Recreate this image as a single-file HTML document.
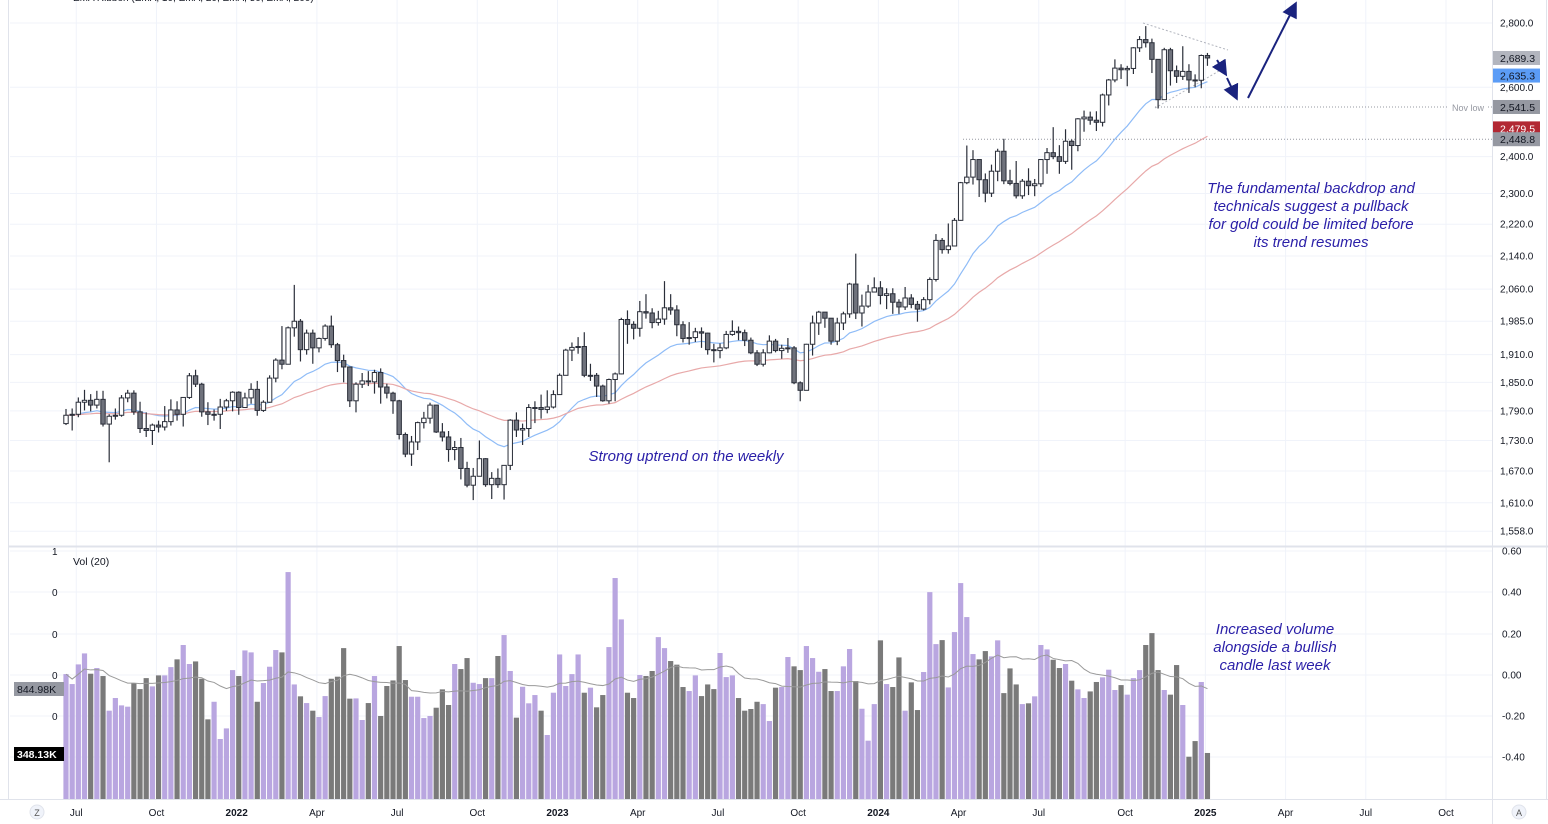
<!DOCTYPE html>
<html><head><meta charset="utf-8">
<style>
html,body{margin:0;padding:0;background:#fff;width:1548px;height:824px;overflow:hidden;font-family:"Liberation Sans",sans-serif;}
svg text{font-family:"Liberation Sans",sans-serif;}
</style></head>
<body>
<svg id="chart" width="1548" height="824" viewBox="0 0 1548 824" xmlns="http://www.w3.org/2000/svg">
<rect x="0" y="0" width="1548" height="824" fill="#fff"/>
<g id="grid"></g>
<g id="price"></g>
<g id="vol"></g>
<g id="axes"></g>
</svg>
<script>
const closes=[1781,1783,1808,1812,1802,1814,1763,1779,1781,1817,1827,1788,1754,1750,1761,1757,1768,1792,1783,1818,1864,1846,1788,1783,1783,1798,1811,1829,
1797,1817,1835,1791,1808,1859,1898,1889,1970,1985,1921,1958,1925,1946,1974,1932,1897,1883,1811,1846,1853,1851,1871,1840,1827,1811,1742,1703,1727,1766,1775,1802,1747,1737,1712,1716,1675,1643,1660,1694,1644,1656,1644,1681,1771,1751,1754,1797,1797,1793,1798,1824,
1865,1920,1926,1928,1865,1865,1842,1811,1856,1868,1989,1978,1969,2007,2004,1982,1990,2016,2011,1977,1946,1948,1961,1958,1921,1919,1925,1955,1962,1959,1942,1914,1889,1914,1940,1919,1924,1925,1849,1833,1933,1981,2006,1992,1940,1981,2002,2072,2004,2020,2053,2063,
2045,2049,2029,2018,2039,2024,2013,2035,2083,2179,2156,2165,2230,2329,2344,2392,2337,2301,2360,2415,2334,2327,2294,2333,2321,2326,2392,2411,2400,2387,2443,2431,2507,2512,2503,2497,2577,2622,2658,2653,2657,2721,2747,2737,2685,2563,2715,2650,2633,2648,2622,2621,2697,2689.3];
const highs=[1794,1795,1818,1834,1825,1832,1832,1783,1795,1823,1834,1833,1809,1787,1764,1770,1800,1814,1810,1818,1870,1877,1849,1808,1793,1815,1815,1831,
1831,1828,1848,1853,1812,1865,1902,1974,1973,2070,1990,1966,1966,1948,1978,1998,1936,1910,1884,1850,1870,1874,1877,1880,1847,1830,1813,1746,1739,1768,1788,1807,1802,1765,1749,1729,1735,1688,1676,1730,1695,1668,1675,1681,1773,1787,1764,1804,1810,1824,1833,1833,
1869,1923,1937,1949,1960,1890,1870,1845,1858,1871,1993,2010,1985,2032,2048,2015,2009,2079,2048,2022,1985,1983,1970,1971,1959,1934,1935,1963,1987,1973,1966,1948,1920,1922,1953,1945,1932,1947,1929,1852,1934,1998,2009,2006,1988,1993,2007,2075,2146,2047,2070,2088,
2079,2062,2062,2036,2065,2048,2032,2041,2088,2195,2185,2222,2236,2331,2431,2418,2392,2354,2378,2422,2450,2364,2388,2339,2368,2339,2393,2424,2483,2432,2477,2448,2509,2531,2528,2529,2581,2625,2685,2670,2665,2723,2758,2790,2750,2686,2721,2721,2666,2726,2670,2639,2700,2705];
const lows=[1761,1750,1777,1791,1789,1795,1758,1687,1772,1778,1808,1782,1745,1737,1721,1746,1750,1760,1770,1758,1815,1840,1778,1761,1770,1753,1790,1789,
1782,1796,1805,1780,1788,1807,1850,1878,1890,1950,1895,1910,1890,1915,1941,1925,1872,1850,1798,1787,1838,1842,1826,1805,1816,1784,1732,1697,1680,1711,1754,1764,1745,1728,1688,1691,1654,1639,1615,1660,1640,1617,1638,1616,1672,1737,1721,1737,1765,1774,1785,1795,
1825,1866,1896,1912,1861,1853,1819,1809,1805,1810,1867,1934,1944,1950,1991,1969,1975,1977,2000,1951,1937,1932,1938,1925,1910,1893,1902,1922,1952,1942,1929,1911,1885,1884,1913,1915,1901,1914,1846,1810,1834,1908,1954,1970,1932,1931,1965,1993,1990,1973,2016,2053,
2024,2013,2002,2002,2011,2015,1984,2010,2024,2078,2146,2146,2164,2229,2325,2324,2291,2277,2291,2333,2325,2322,2287,2286,2296,2293,2318,2353,2393,2353,2380,2364,2415,2470,2490,2472,2485,2546,2615,2625,2603,2640,2708,2722,2643,2537,2564,2605,2613,2622,2583,2600,2597,2665];
const volumesK=[966,889,1041,1126,969,1013,951,683,781,724,714,897,850,935,871,956,956,1020,1080,1191,1044,1064,930,616,752,464,546,997,951,1149,1134,752,897,1023,1152,1134,1755,886,794,742,683,634,796,930,946,1167,776,778,611,742,951,642,874,917,1183,920,791,791,626,642,706,848,727,1044,1005,1090,899,889,935,935,1106,1268,990,629,868,740,804,683,495,822,1118,874,966,1118,822,861,709,804,1175,1709,1389,
822,781,959,951,990,1252,1167,1067,1039,866,835,956,796,886,850,1129,943,956,781,683,696,752,734,603,861,866,1098,1026,997,1183,1090,984,1005,835,835,1026,1160,912,698,451,734,1227,889,866,1095,683,902,688,982,1600,1198,1229,863,1291,1670,1407,1121,1080,1144,1103,1227,819,1010,886,734,740,794,1191,1157,1077,1013,1044,915,848,781,832,905,941,1000,843,881,807,935,997,1191,1283,997,843,807,1036,727,327,448,905,356];
const firstOpen=1764;
const priceTicks=[2800,2600,2400,2300,2220,2140,2060,1985,1910,1850,1790,1730,1670,1610,1558];
const timeLabels=["Jul","Oct","2022","Apr","Jul","Oct","2023","Apr","Jul","Oct","2024","Apr","Jul","Oct","2025","Apr","Jul","Oct"];
const timeWeeks=[1.5,14.5,27.5,40.5,53.5,66.5,79.5,92.5,105.5,118.5,131.5,144.5,157.5,171.5,184.5,197.5,210.5,223.5];
const volTicks=["0.60","0.40","0.20","0.00","-0.20","-0.40"];

const NS="http://www.w3.org/2000/svg";
function mk(tag,attrs,parent,text){const e=document.createElementNS(NS,tag);for(const k in attrs)e.setAttribute(k,attrs[k]);if(text!==undefined)e.textContent=text;parent.appendChild(e);return e;}
const X=i=>66+i*6.17;
const Y=p=>23+867*Math.log(2800/p);
const VY=v=>799-v*0.1293;
const grid=document.getElementById('grid'),price=document.getElementById('price'),vol=document.getElementById('vol'),axes=document.getElementById('axes');

priceTicks.forEach(p=>{const l=mk('line',{x1:10,x2:1492,y1:Y(p),y2:Y(p),stroke:'#f0f3fa','stroke-width':1},grid);

});
[551,592,634,675,716,757].forEach(y=>{const l=mk('line',{x1:10,x2:1492,y1:y,y2:y,stroke:'#f0f3fa'},grid);

});
timeWeeks.forEach(w=>{const x=X(w)+1;const l=mk('line',{x1:x,x2:x,y1:0,y2:799,stroke:'#f0f3fa'},grid);

});

mk('line',{x1:8.5,x2:8.5,y1:0,y2:800,stroke:'#e0e3eb'},axes);
mk('line',{x1:1492.5,x2:1492.5,y1:0,y2:824,stroke:'#e0e3eb'},axes);
mk('line',{x1:8,x2:1548,y1:546.5,y2:546.5,stroke:'#e0e3eb','stroke-width':2},axes);
mk('line',{x1:0,x2:1548,y1:799.5,y2:799.5,stroke:'#e0e3eb'},axes);
mk('line',{x1:1546.5,x2:1546.5,y1:0,y2:800,stroke:'#e0e3eb'},axes);

mk('line',{x1:963,x2:1492,y1:Y(2448.8),y2:Y(2448.8),stroke:'#9598a1','stroke-dasharray':'1,2'},price);
mk('line',{x1:1155,x2:1448,y1:Y(2541.5),y2:Y(2541.5),stroke:'#9598a1','stroke-dasharray':'1,2'},price);
mk('line',{x1:1488,x2:1492,y1:Y(2541.5),y2:Y(2541.5),stroke:'#9598a1','stroke-dasharray':'1,2'},price);
mk('text',{x:1452,y:111,'font-size':9,fill:'#9598a1'},price,'Nov low');
mk('line',{x1:1143,y1:23,x2:1228,y2:50,stroke:'#b2b5be','stroke-dasharray':'2,2'},price);
mk('line',{x1:1155,y1:108,x2:1226,y2:67,stroke:'#b2b5be','stroke-dasharray':'2,2'},price);

function ema(n){const a=[];let e=closes[0];const k=2/(n+1);closes.forEach((c,i)=>{e=i?c*k+e*(1-k):c;a.push(e);});return a;}
const e20=ema(20),e50=ema(50);
const p20=mk('polyline',{points:e20.map((v,i)=>X(i)+','+Y(v)).join(' '),fill:'none',stroke:'#8fbcf7','stroke-width':1.2},price);


const p50=mk('polyline',{points:e50.map((v,i)=>X(i)+','+Y(v)).join(' '),fill:'none',stroke:'#e8a9a9','stroke-width':1.2},price);



closes.forEach((c,i)=>{
  const o=i?closes[i-1]:firstOpen;const up=c>=o;const x=X(i);
  const g=mk('g',{},price);
  
  
  mk('line',{x1:x,x2:x,y1:Y(highs[i]),y2:Y(lows[i]),stroke:'#2a2e39','stroke-width':1.2},g);
  const top=Y(Math.max(o,c)),bot=Y(Math.min(o,c));
  mk('rect',{x:x-2.2,y:top,width:4.4,height:Math.max(1,bot-top),fill:up?'#ffffff':'#6f727c',stroke:'#2a2e39','stroke-width':1},g);
  const b=mk('rect',{x:x-2.6,y:VY(volumesK[i]),width:5.2,height:volumesK[i]*0.1293,fill:up?'#b9a6e0':'#7a7a7a'},vol);
  
  
});
const vma=volumesK.map((v,i)=>{const s=volumesK.slice(Math.max(0,i-19),i+1);return s.reduce((a,b)=>a+b,0)/s.length;});
const pv=mk('polyline',{points:vma.map((v,i)=>X(i)+','+VY(v)).join(' '),fill:'none',stroke:'#9a9a9a','stroke-width':1},vol);



priceTicks.forEach(p=>{const t=mk('text',{x:1500,y:Y(p)+3.5,'font-size':10,fill:'#131722'},axes,p.toLocaleString('en-US',{minimumFractionDigits:1}));

});
[[2689.3,'#b2b5be','#131722'],[2635.3,'#5b9cf6','#131722'],[2541.5,'#9598a1','#131722'],[2479.5,'#b22833','#ffffff'],[2448.8,'#9598a1','#131722']].forEach(([v,bg,fg])=>{
  const y=Y(v);const g=mk('g',{},axes);
  
  
  mk('rect',{x:1493,y:y-7,width:47,height:14,fill:bg},g);
  mk('text',{x:1500,y:y+4,'font-size':10.5,fill:fg},g,v.toLocaleString('en-US',{minimumFractionDigits:1}));
});
volTicks.forEach((t,i)=>{const e=mk('text',{x:1502,y:[551,592,634,675,716,757][i]+3.5,'font-size':10,fill:'#131722'},axes,t);

});
["1","0","0","0","0"].forEach((t,i)=>mk('text',{x:52,y:[551,592,634,675,716][i]+4,'font-size':10,fill:'#131722'},axes,t));
timeLabels.forEach((t,i)=>{const e=mk('text',{x:X(timeWeeks[i])+1,y:816,'font-size':10,fill:'#131722','text-anchor':'middle','font-weight':/^\d/.test(t)?'bold':'normal'},axes,t);

});
</script>
<svg width="1548" height="824" style="position:absolute;left:0;top:0" xmlns="http://www.w3.org/2000/svg">
<defs><marker id="ah" markerWidth="8" markerHeight="8" refX="6" refY="4" orient="auto"><path d="M0,0 L8,4 L0,8 z" fill="#1a237e"/></marker></defs>
<text x="73" y="1" font-size="10" fill="#131722">EMA Ribbon (EMA, 10, EMA, 20, EMA, 50, EMA, 200)</text>
<line x1="1217" y1="60" x2="1225" y2="73" stroke="#1a237e" stroke-width="2" marker-end="url(#ah)"/>
<line x1="1227" y1="78" x2="1236" y2="97" stroke="#1a237e" stroke-width="2" marker-end="url(#ah)"/>
<line x1="1248" y1="98" x2="1295" y2="5" stroke="#1a237e" stroke-width="2" marker-end="url(#ah)"/>
<g font-style="italic" font-size="15" fill="#2a1fa8" text-anchor="middle">
<text x="686" y="461">Strong uptrend on the weekly</text>
<g>
<text x="1311" y="193">The fundamental backdrop and</text>
<text x="1311" y="211">technicals suggest a pullback</text>
<text x="1311" y="229">for gold could be limited before</text>
<text x="1311" y="247">its trend resumes</text></g>
<g>
<text x="1275" y="634">Increased volume</text>
<text x="1275" y="652">alongside a bullish</text>
<text x="1275" y="670">candle last week</text></g>
</g>
<text x="73" y="565" font-size="10.5" fill="#131722">Vol (20)</text>
<rect x="14" y="682" width="50" height="14" fill="#9598a1"/>
<text x="17" y="693" font-size="10.5" fill="#131722">844.98K</text>
<rect x="14" y="747" width="50" height="14" fill="#000"/>
<text x="17" y="758" font-size="10.5" fill="#fff" font-weight="bold">348.13K</text>
<circle cx="37" cy="812" r="7" fill="#f0f3fa" stroke="#e0e3eb"/>
<text x="37" y="816" font-size="9" text-anchor="middle" fill="#555">Z</text>
<circle cx="1519" cy="812" r="7" fill="#f0f3fa" stroke="#e0e3eb"/>
<text x="1519" y="816" font-size="9" text-anchor="middle" fill="#555">A</text>
</svg>
</body></html>
